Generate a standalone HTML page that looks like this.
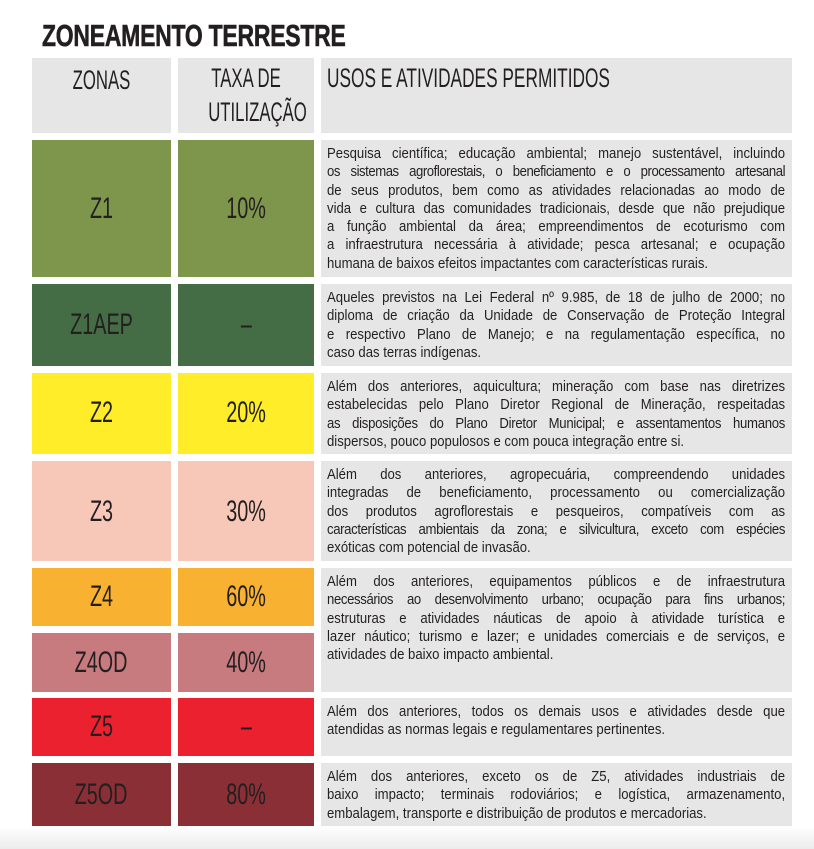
<!DOCTYPE html>
<html><head><meta charset="utf-8"><style>
*{margin:0;padding:0;box-sizing:border-box}
body{width:814px;height:849px;background:#fff;position:relative;overflow:hidden;font-family:"Liberation Sans",sans-serif;color:#231f20}
.bot{position:absolute;left:0;top:826px;width:814px;height:23px;background:linear-gradient(#fff,#ececec)}
.title{position:absolute;left:42px;top:18px;font-weight:bold;font-size:31px;white-space:nowrap;transform:scaleX(0.74);transform-origin:left top;letter-spacing:-0.3px;-webkit-text-stroke:0.6px #231f20}
.c{position:absolute}
.g{background:#e6e6e6}
.lab{position:absolute;left:0;right:0;text-align:center;font-size:30px;white-space:nowrap}
.lab span{display:inline-block;transform:scaleX(0.66)}
.hd{position:absolute;font-size:27px;white-space:nowrap;line-height:34px;color:#231f20}
.hd span{display:inline-block;transform:scaleX(0.62)}
.tx{position:absolute;left:6px;top:5px;width:509px;font-size:14.6px;line-height:18.3px;transform:scaleX(0.9);transform-origin:left top}
.tx div{text-align:justify;text-align-last:justify;white-space:nowrap}
.tx div.l{text-align-last:left}
</style></head><body>
<div class="title">ZONEAMENTO TERRESTRE</div>

<div class="c g" style="left:32px;top:58px;width:139px;height:75px"><div class="hd" style="left:0;right:0;top:5px;text-align:center"><span>ZONAS</span></div></div>
<div class="c g" style="left:178px;top:58px;width:136px;height:75px"><div class="hd" style="left:0;right:0;top:3px;text-align:center"><span>TAXA DE</span><br><span>UTILIZAÇÃO</span></div></div>
<div class="c g" style="left:321px;top:58px;width:471px;height:75px"><div class="hd" style="left:6px;top:3px;transform:scaleX(0.64);transform-origin:left top">USOS E ATIVIDADES PERMITIDOS</div></div>

<div class="c" style="left:32px;top:140px;width:139px;height:137px;background:#7e964c"><div class="lab" style="top:52px"><span>Z1</span></div></div>
<div class="c" style="left:178px;top:140px;width:136px;height:137px;background:#7e964c"><div class="lab" style="top:52px"><span>10%</span></div></div>
<div class="c g" style="left:321px;top:140px;width:471px;height:137px"><div class="tx">
<div>Pesquisa científica; educação ambiental; manejo sustentável, incluindo</div>
<div style="letter-spacing:-0.5px;word-spacing:-2px">os sistemas agroflorestais, o beneficiamento e o processamento artesanal</div>
<div>de seus produtos, bem como as atividades relacionadas ao modo de</div>
<div>vida e cultura das comunidades tradicionais, desde que não prejudique</div>
<div>a função ambiental da área; empreendimentos de ecoturismo com</div>
<div>a infraestrutura necessária à atividade; pesca artesanal; e ocupação</div>
<div class="l">humana de baixos efeitos impactantes com características rurais.</div>
</div></div>

<div class="c" style="left:32px;top:284px;width:139px;height:82px;background:#446d45"><div class="lab" style="top:24px"><span>Z1AEP</span></div></div>
<div class="c" style="left:178px;top:284px;width:136px;height:82px;background:#446d45"><div class="lab" style="top:24px"><span>–</span></div></div>
<div class="c g" style="left:321px;top:284px;width:471px;height:82px"><div class="tx">
<div>Aqueles previstos na Lei Federal nº 9.985, de 18 de julho de 2000; no</div>
<div>diploma de criação da Unidade de Conservação de Proteção Integral</div>
<div>e respectivo Plano de Manejo; e na regulamentação específica, no</div>
<div class="l">caso das terras indígenas.</div>
</div></div>

<div class="c" style="left:32px;top:373px;width:139px;height:81px;background:#feed28"><div class="lab" style="top:23px"><span>Z2</span></div></div>
<div class="c" style="left:178px;top:373px;width:136px;height:81px;background:#feed28"><div class="lab" style="top:23px"><span>20%</span></div></div>
<div class="c g" style="left:321px;top:373px;width:471px;height:81px"><div class="tx">
<div>Além dos anteriores, aquicultura; mineração com base nas diretrizes</div>
<div>estabelecidas pelo Plano Diretor Regional de Mineração, respeitadas</div>
<div style="letter-spacing:-0.3px">as disposições do Plano Diretor Municipal; e assentamentos humanos</div>
<div class="l">dispersos, pouco populosos e com pouca integração entre si.</div>
</div></div>

<div class="c" style="left:32px;top:461px;width:139px;height:100px;background:#f7c7b7"><div class="lab" style="top:34px"><span>Z3</span></div></div>
<div class="c" style="left:178px;top:461px;width:136px;height:100px;background:#f7c7b7"><div class="lab" style="top:34px"><span>30%</span></div></div>
<div class="c g" style="left:321px;top:461px;width:471px;height:100px"><div class="tx">
<div>Além dos anteriores, agropecuária, compreendendo unidades</div>
<div>integradas de beneficiamento, processamento ou comercialização</div>
<div>dos produtos agroflorestais e pesqueiros, compatíveis com as</div>
<div style="letter-spacing:-0.4px;word-spacing:-1px">características ambientais da zona; e silvicultura, exceto com espécies</div>
<div class="l">exóticas com potencial de invasão.</div>
</div></div>

<div class="c" style="left:32px;top:568px;width:139px;height:58px;background:#f9b131"><div class="lab" style="top:12px"><span>Z4</span></div></div>
<div class="c" style="left:178px;top:568px;width:136px;height:58px;background:#f9b131"><div class="lab" style="top:12px"><span>60%</span></div></div>
<div class="c" style="left:32px;top:633px;width:139px;height:59px;background:#c77b7f"><div class="lab" style="top:13px"><span>Z4OD</span></div></div>
<div class="c" style="left:178px;top:633px;width:136px;height:59px;background:#c77b7f"><div class="lab" style="top:13px"><span>40%</span></div></div>
<div class="c g" style="left:321px;top:568px;width:471px;height:124px"><div class="tx">
<div>Além dos anteriores, equipamentos públicos e de infraestrutura</div>
<div style="letter-spacing:-0.4px;word-spacing:-1px">necessários ao desenvolvimento urbano; ocupação para fins urbanos;</div>
<div>estruturas e atividades náuticas de apoio à atividade turística e</div>
<div>lazer náutico; turismo e lazer; e unidades comerciais e de serviços, e</div>
<div class="l">atividades de baixo impacto ambiental.</div>
</div></div>

<div class="c" style="left:32px;top:698px;width:139px;height:58px;background:#ec2130"><div class="lab" style="top:12px"><span>Z5</span></div></div>
<div class="c" style="left:178px;top:698px;width:136px;height:58px;background:#ec2130"><div class="lab" style="top:12px"><span>–</span></div></div>
<div class="c g" style="left:321px;top:698px;width:471px;height:58px"><div class="tx">
<div>Além dos anteriores, todos os demais usos e atividades desde que</div>
<div class="l">atendidas as normas legais e regulamentares pertinentes.</div>
</div></div>

<div class="c" style="left:32px;top:763px;width:139px;height:63px;background:#8a2f35"><div class="lab" style="top:15px"><span>Z5OD</span></div></div>
<div class="c" style="left:178px;top:763px;width:136px;height:63px;background:#8a2f35"><div class="lab" style="top:15px"><span>80%</span></div></div>
<div class="c g" style="left:321px;top:763px;width:471px;height:63px"><div class="tx">
<div>Além dos anteriores, exceto os de Z5, atividades industriais de</div>
<div>baixo impacto; terminais rodoviários; e logística, armazenamento,</div>
<div class="l">embalagem, transporte e distribuição de produtos e mercadorias.</div>
</div></div>

<div class="bot"></div>
</body></html>
